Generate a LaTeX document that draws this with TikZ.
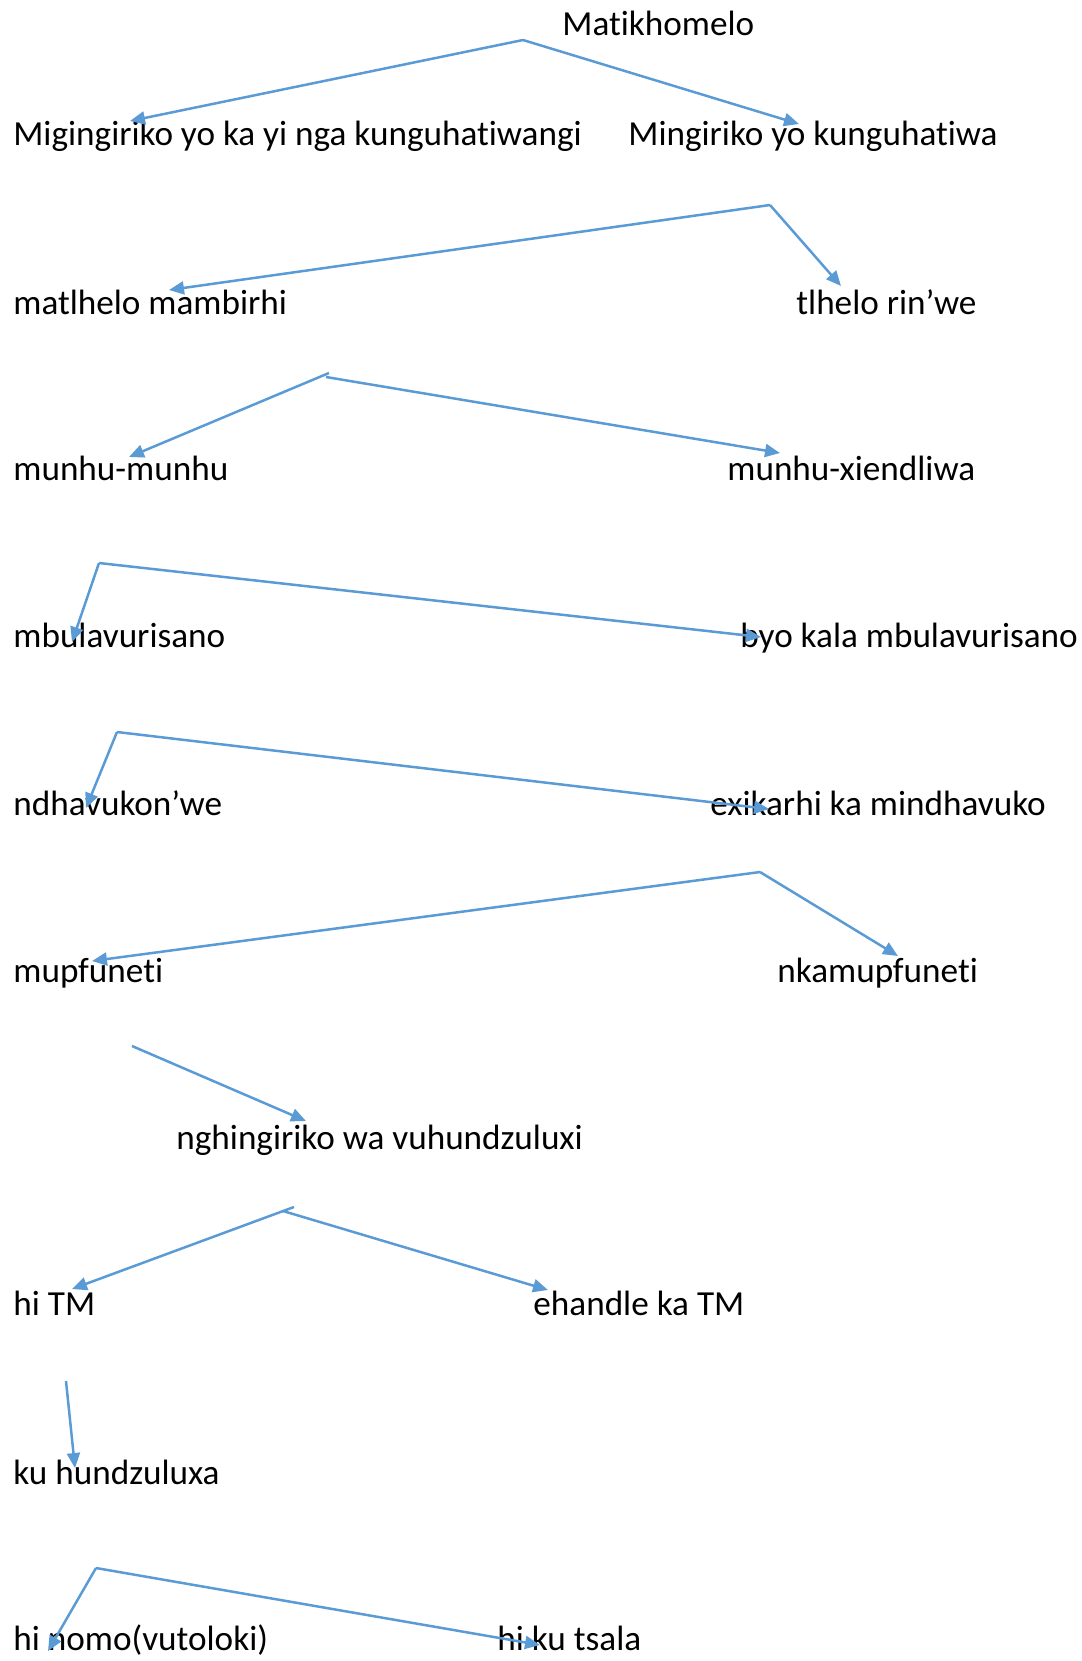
\documentclass[tikz,border=0pt]{standalone}
\usepackage{fontspec}
\setmainfont{Carlito}[Ligatures=NoCommon]
\usetikzlibrary{arrows.meta}
\definecolor{LinkBlue}{RGB}{91,155,213}

\begin{document}
\begin{tikzpicture}[x=0.5pt, y=-0.5pt,
  term/.style={anchor=base west, inner sep=0pt, font=\fontsize{17.6}{20}\selectfont},
  link/.style={LinkBlue, line width=1.25pt, -{Triangle[length=7.5pt, width=6.5pt]}}]

  % --- Canvas (pixel units, y down) ---
  \useasboundingbox (0,0) rectangle (1082,1661);

  % --- Terms ---
  \node[term] (mat)  at (562,  35) {Matikhomelo};
  \node[term] (mig)  at ( 13, 145) {Migingiriko yo ka yi nga kunguhatiwangi};
  \node[term] (ming) at (628, 145) {Mingiriko yo kunguhatiwa};
  \node[term] (matl) at ( 13, 314) {matlhelo mambirhi};
  \node[term] (tlh)  at (796, 314) {tlhelo rin’we};
  \node[term] (mm)   at ( 13, 480) {munhu-munhu};
  \node[term] (mx)   at (727, 480) {munhu-xiendliwa};
  \node[term] (mbu)  at ( 13, 647) {mbulavurisano};
  \node[term] (byo)  at (740, 647) {byo kala mbulavurisano};
  \node[term] (ndh)  at ( 13, 815) {ndhavukon’we};
  \node[term] (exi)  at (710, 815) {exikarhi ka mindhavuko};
  \node[term] (mup)  at ( 13, 982) {mupfuneti};
  \node[term] (nka)  at (777, 982) {nkamupfuneti};
  \node[term] (ngh)  at (176,1149) {nghingiriko wa vuhundzuluxi};
  \node[term] (hitm) at ( 13,1315) {hi TM};
  \node[term] (eha)  at (533,1315) {ehandle ka TM};
  \node[term] (kuh)  at ( 13,1484) {ku hundzuluxa};
  \node[term] (hin)  at ( 13,1650) {hi nomo(vutoloki)};
  \node[term] (hik)  at (497,1650) {hi ku tsala};

  % --- Fork points ---
  \coordinate (fork1)  at (523,  40);
  \coordinate (fork2)  at (770, 205);
  \coordinate (fork3a) at (329, 373);
  \coordinate (fork3b) at (326, 377);
  \coordinate (fork4)  at ( 99, 563);
  \coordinate (fork5)  at (117, 732);
  \coordinate (fork6)  at (760, 872);
  \coordinate (fork7)  at (132,1046);
  \coordinate (fork8a) at (294,1207);
  \coordinate (fork8b) at (283,1211);
  \coordinate (fork9)  at ( 66,1381);
  \coordinate (fork10) at ( 96,1568);

  % --- Arrows ---
  \draw[link] (fork1)  -- ([shift={(117,-24)}]mig.base west);
  \draw[link] (fork1)  -- ([shift={(171,-21)}]ming.base west);
  \draw[link] (fork2)  -- ([shift={(156,-24)}]matl.base west);
  \draw[link] (fork2)  -- ([shift={(45,-28)}]tlh.base west);
  \draw[link] (fork3a) -- ([shift={(116,-23)}]mm.base west);
  \draw[link] (fork3b) -- ([shift={(53,-27)}]mx.base west);
  \draw[link] (fork4)  -- ([shift={(59,-5)}]mbu.base west);
  \draw[link] (fork4)  -- ([shift={(21,-10)}]byo.base west);
  \draw[link] (fork5)  -- ([shift={(73,-7)}]ndh.base west);
  \draw[link] (fork5)  -- ([shift={(59,-6)}]exi.base west);
  \draw[link] (fork6)  -- ([shift={(79,-21)}]mup.base west);
  \draw[link] (fork6)  -- ([shift={(121,-26)}]nka.base west);
  \draw[link] (fork7)  -- ([shift={(130,-28)}]ngh.base west);
  \draw[link] (fork8a) -- ([shift={(59,-26)}]hitm.base west);
  \draw[link] (fork8b) -- ([shift={(15,-25)}]eha.base west);
  \draw[link] (fork9)  -- ([shift={(62,-16)}]kuh.base west);
  \draw[link] (fork10) -- ([shift={(35,1)}]hin.base west);
  \draw[link] (fork10) -- ([shift={(43,-5)}]hik.base west);

\end{tikzpicture}
\end{document}
